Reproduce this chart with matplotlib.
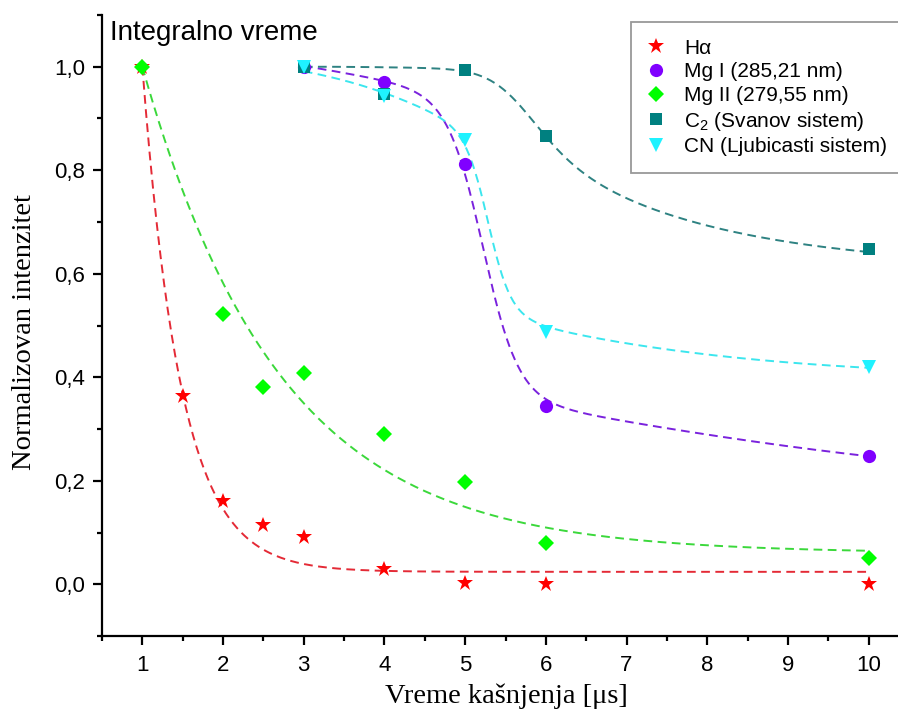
import numpy as np
import matplotlib
matplotlib.use("Agg")
import matplotlib.pyplot as plt
from matplotlib.ticker import MultipleLocator, FuncFormatter

# ---- measured intensities (normalised) ----
x_ha = [1, 1.5, 2, 2.5, 3, 4, 5, 6, 10]
y_ha = [1.0, 0.363, 0.160, 0.114, 0.091, 0.029, 0.002, 0.001, 0.0]

x_mg2 = [1, 2, 2.5, 3, 4, 5, 6, 10]
y_mg2 = [1.0, 0.522, 0.381, 0.408, 0.290, 0.197, 0.079, 0.050]

x_late = [3, 4, 5, 6, 10]
y_mg1 = [1.0, 0.971, 0.812, 0.344, 0.247]
y_c2 = [1.0, 0.947, 0.994, 0.866, 0.647]
y_cn = [1.0, 0.943, 0.858, 0.487, 0.419]

labels = ["H\u03b1", "Mg I (285,21 nm)", "Mg II (279,55 nm)",
          r"C$_\mathregular{2}$ (Svanov sistem)", "CN (Ljubicasti sistem)"]

# ---- fitted-curve parameters ----
# exponential decay: y0, amplitude, decay constant (x measured from 1 us)
ha_fit = [0.024, 0.976, 0.48]
mg2_fit = [0.06, 0.94, 1.7]
# sum of logistic steps: offset, then (amplitude, centre, width) per step
mg1_fit = [0.17, (0.576, 5.22, 0.22), (0.40, 5.0, 3.5)]
cn_fit = [0.40, (0.34, 5.285, 0.14), (0.24, 5.0, 2.0), (0.08, 4.6, 0.55)]
# step onto an exponential tail: a, b, t, x_ref, u, x0, w
c2_fit = [0.61, 0.215, 2.1, 6.0, 0.0015, 5.68, 0.29]


def exp_decay(x, y0, a, t):
    return y0 + a * np.exp(-(x - 1.0) / t)


def logistic_sum(x, offset, *steps):
    y = np.full_like(x, offset)
    for amp, xc, w in steps:
        y += amp / (1.0 + np.exp((x - xc) / w))
    return y


def step_tail(x, a, b, t, x_ref, u, x0, w):
    lower = a + b * np.exp(-(x - x_ref) / t)
    upper = 1.0 - u * (x - 3.0) ** 2
    s = 1.0 / (1.0 + np.exp((x - x0) / w))
    return lower + (upper - lower) * s


plt.rcParams["font.family"] = ["Liberation Sans", "DejaVu Sans"]
plt.rcParams["mathtext.default"] = "regular"

fig = plt.figure(figsize=(8.98, 7.14), dpi=100)
W, H = 898, 714
ax = fig.add_axes([102 / W, (H - 636) / H, (909 - 102) / W, (636 - 15) / H])

col_ha, line_ha = "#FF0000", "#E42A36"
col_mg1, line_mg1 = "#8000FF", "#7A22DD"
col_mg2, line_mg2 = "#00FF00", "#3BD83B"
col_c2, line_c2 = "#008080", "#2E8282"
col_cn, line_cn = "#1FF2FF", "#3CE6EE"

dash = dict(ls=(0, (4.5, 2.8)), lw=1.4)

xa = np.linspace(1, 10, 400)
xb = np.linspace(3, 10, 400)
ax.plot(xa, exp_decay(xa, *ha_fit), color=line_ha, **dash, zorder=2)
ax.plot(xa, exp_decay(xa, *mg2_fit), color=line_mg2, **dash, zorder=2)
ax.plot(xb, logistic_sum(xb, *mg1_fit), color=line_mg1, **dash, zorder=2)
ax.plot(xb, step_tail(xb, *c2_fit), color=line_c2, **dash, zorder=2)
ax.plot(xb, logistic_sum(xb, *cn_fit), color=line_cn, **dash, zorder=2)

h1, = ax.plot(x_ha, y_ha, "*", color=col_ha, ms=12, mew=0, zorder=3)
h2, = ax.plot(x_late, y_mg1, "o", color=col_mg1, ms=9.5, mew=0, zorder=3)
h3, = ax.plot(x_mg2, y_mg2, "D", color=col_mg2, ms=7.8, mew=0, zorder=3)
h4, = ax.plot(x_late, y_c2, "s", color=col_c2, ms=8.5, mew=0, zorder=3)
h5, = ax.plot(x_late, y_cn, "v", color=col_cn, ms=10.5, mew=0, zorder=3)

ax.set_xlim(0.5, 10.5)
ax.set_ylim(-0.1, 1.1)
ax.xaxis.set_minor_locator(MultipleLocator(0.5))
ax.yaxis.set_major_locator(MultipleLocator(0.2))
ax.yaxis.set_minor_locator(MultipleLocator(0.1))
ax.set_xticks(np.arange(1, 11))
ax.yaxis.set_major_formatter(FuncFormatter(
    lambda v, p: f"{v:.1f}".replace(".", ",").replace("-0,0", "0,0")))

for s in ("top", "right"):
    ax.spines[s].set_visible(False)
for s in ("left", "bottom"):
    ax.spines[s].set_linewidth(1.6)
ax.tick_params(which="both", direction="out", width=1.6, labelsize=16)
ax.tick_params(which="major", length=6.5)
ax.tick_params(which="minor", length=3.5)
ax.tick_params(axis="x", which="major", pad=7)
ax.tick_params(axis="y", which="major", pad=5.5)

ax.set_xlabel("Vreme ka\u0161njenja [\u03bcs]", fontfamily="Liberation Serif",
              fontsize=20.5)
ax.set_ylabel("Normalizovan intenzitet", fontfamily="Liberation Serif",
              fontsize=20.5)
ax.xaxis.set_label_coords(0.5006, -0.077)
ax.yaxis.set_label_coords(-0.080, 0.490)

ax.text(0.0099, 0.9598, "Integralno vreme", transform=ax.transAxes,
        fontsize=20, va="baseline", ha="left")

leg = fig.legend([h1, h2, h3, h4, h5], labels, loc="upper left",
                 bbox_to_anchor=(631 / W, 1 - 22 / H), borderaxespad=0,
                 fontsize=15, frameon=True, fancybox=False, numpoints=1,
                 handlelength=0.8, handletextpad=0.95, labelspacing=0.225,
                 borderpad=0.8)
leg.get_frame().set_edgecolor("#7f7f7f")
leg.get_frame().set_linewidth(1.3)

fig.savefig("out.png", dpi=100)
